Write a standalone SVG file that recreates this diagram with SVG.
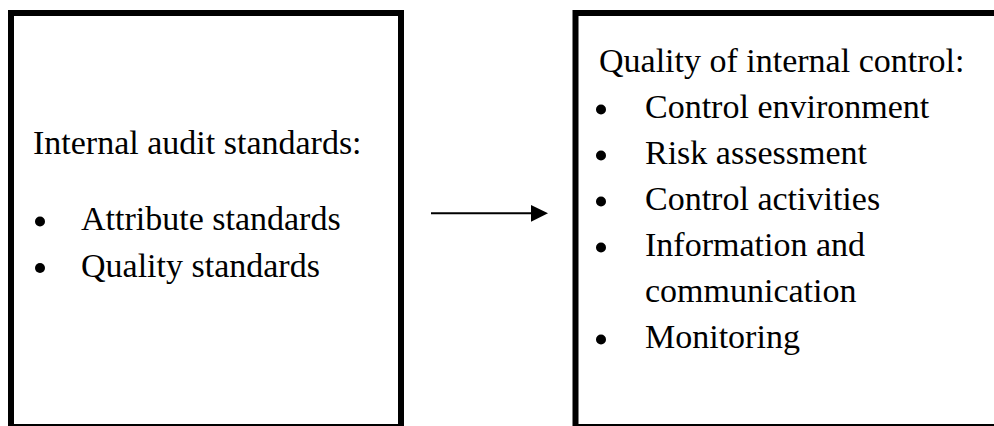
<svg xmlns="http://www.w3.org/2000/svg" width="994" height="426" viewBox="0 0 994 426">
<style>
.box{fill:#fff;stroke:#000;stroke-width:6}
.t{font-family:"Liberation Serif","Times New Roman",serif;font-size:34px;fill:#000}
.b{fill:#000}
</style>
<rect width="994" height="426" fill="#fff"/>
<g id="connectors">
<line x1="431" y1="213.3" x2="533" y2="213.3" stroke="#000" stroke-width="2"/>
<polygon points="531,205 548,213.3 531,221.7" fill="#000"/>
</g>
<g id="node-audit-standards">
<rect class="box" x="11" y="13" width="390" height="414"/>
<text class="t" x="33" y="154">Internal audit standards:</text>
<circle class="b" cx="40" cy="221.5" r="5"/>
<text class="t" x="81" y="230">Attribute standards</text>
<circle class="b" cx="40" cy="268" r="5"/>
<text class="t" x="81" y="276.5">Quality standards</text>
</g>
<g id="node-internal-control">
<rect class="box" x="575.5" y="13" width="430" height="414"/>
<text class="t" x="599" y="71.7">Quality of internal control:</text>
<circle class="b" cx="601" cy="109.5" r="5"/>
<text class="t" x="645" y="117.7">Control environment</text>
<circle class="b" cx="601" cy="155.5" r="5"/>
<text class="t" x="645" y="163.7">Risk assessment</text>
<circle class="b" cx="601" cy="201.5" r="5"/>
<text class="t" x="645" y="209.7">Control activities</text>
<circle class="b" cx="601" cy="247.5" r="5"/>
<text class="t" x="645" y="255.7">Information and</text>
<text class="t" x="645" y="301.7">communication</text>
<circle class="b" cx="601" cy="339.5" r="5"/>
<text class="t" x="645" y="347.7">Monitoring</text>
</g>
</svg>
